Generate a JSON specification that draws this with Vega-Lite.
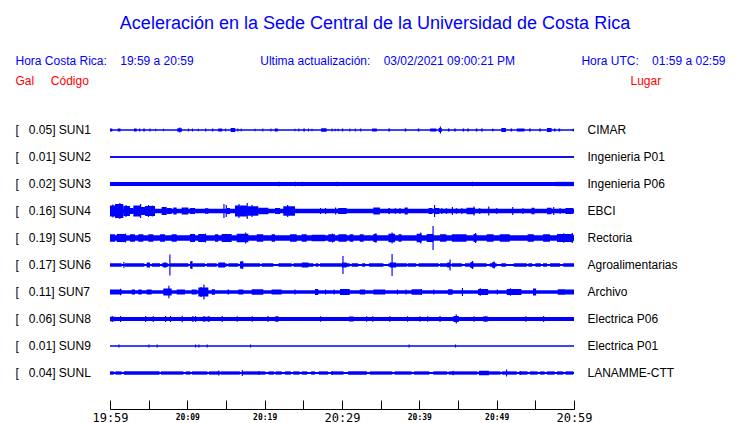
{
"$schema": "https://vega.github.io/schema/vega-lite/v6.json",
"width": 464, "height": 270,
"autosize": {"type": "none"},
"padding": {"left": 110, "top": 116.5, "right": 166, "bottom": 36.5},
"background": "white",
"config": {"view": {"stroke": null}, "axis": {"grid": false}},
"title": {"text": "Aceleración en la Sede Central de la Universidad de Costa Rica", "color": "#0000ff", "font": "Liberation Sans", "fontSize": 18, "fontWeight": "normal", "anchor": "middle", "frame": "group", "dx": 33, "offset": 22},
"datasets": {
"estaciones": [
{"s":"SUN1","gal":0.05,"lugar":"CIMAR","ruido":1.5},
{"s":"SUN2","gal":0.01,"lugar":"Ingenieria P01","ruido":1.3},
{"s":"SUN3","gal":0.02,"lugar":"Ingenieria P06","ruido":3.8},
{"s":"SUN4","gal":0.16,"lugar":"EBCI","ruido":4.5},
{"s":"SUN5","gal":0.19,"lugar":"Rectoria","ruido":5.3},
{"s":"SUN6","gal":0.17,"lugar":"Agroalimentarias","ruido":2},
{"s":"SUN7","gal":0.11,"lugar":"Archivo","ruido":3.5},
{"s":"SUN8","gal":0.06,"lugar":"Electrica P06","ruido":3.8},
{"s":"SUN9","gal":0.01,"lugar":"Electrica P01","ruido":1.4},
{"s":"SUNL","gal":0.04,"lugar":"LANAMME-CTT","ruido":2.2}
],
"trazas": [
{"s":"SUN1","a":0,"b":0.3,"h":3},{"s":"SUN1","a":1,"b":1.35,"h":3},{"s":"SUN1","a":3.1,"b":3.45,"h":3},{"s":"SUN1","a":3.75,"b":3.9,"h":3},{"s":"SUN1","a":4.3,"b":4.5,"h":3},{"s":"SUN1","a":5.1,"b":5.25,"h":3},{"s":"SUN1","a":5.85,"b":5.98,"h":2.5},{"s":"SUN1","a":6.85,"b":6.98,"h":2.5},{"s":"SUN1","a":8.7,"b":9.3,"h":3.5},{"s":"SUN1","a":8.95,"b":9.1,"h":5},{"s":"SUN1","a":10.1,"b":10.22,"h":3},{"s":"SUN1","a":10.6,"b":10.72,"h":3},{"s":"SUN1","a":11.35,"b":11.48,"h":2.5},{"s":"SUN1","a":12.3,"b":12.45,"h":3},{"s":"SUN1","a":13.2,"b":13.35,"h":3},{"s":"SUN1","a":14,"b":14.5,"h":3},{"s":"SUN1","a":14.9,"b":15.02,"h":3},{"s":"SUN1","a":15.6,"b":16.2,"h":4},{"s":"SUN1","a":16.45,"b":16.6,"h":3},{"s":"SUN1","a":16.9,"b":17.02,"h":3},{"s":"SUN1","a":18.7,"b":18.83,"h":2.5},{"s":"SUN1","a":19.7,"b":19.83,"h":3},{"s":"SUN1","a":20.75,"b":20.88,"h":3},{"s":"SUN1","a":21.3,"b":21.7,"h":3},{"s":"SUN1","a":23.85,"b":23.98,"h":2.5},{"s":"SUN1","a":24.35,"b":24.48,"h":3},{"s":"SUN1","a":25,"b":25.2,"h":3},{"s":"SUN1","a":25.6,"b":25.72,"h":3},{"s":"SUN1","a":26.05,"b":26.18,"h":2.5},{"s":"SUN1","a":27.3,"b":28,"h":3.5},{"s":"SUN1","a":28.65,"b":28.78,"h":3},{"s":"SUN1","a":29.05,"b":29.18,"h":2.5},{"s":"SUN1","a":29.45,"b":29.58,"h":2.5},{"s":"SUN1","a":30,"b":30.15,"h":3},{"s":"SUN1","a":30.95,"b":31.08,"h":3},{"s":"SUN1","a":31.65,"b":31.78,"h":3},{"s":"SUN1","a":32.35,"b":32.5,"h":3},{"s":"SUN1","a":33.9,"b":34.5,"h":3},{"s":"SUN1","a":36,"b":36.2,"h":3},{"s":"SUN1","a":38.1,"b":38.3,"h":3},{"s":"SUN1","a":39.8,"b":40,"h":3},{"s":"SUN1","a":41.4,"b":42.2,"h":3},{"s":"SUN1","a":42.5,"b":42.9,"h":4},{"s":"SUN1","a":42.65,"b":42.8,"h":7},{"s":"SUN1","a":43.7,"b":43.9,"h":3},{"s":"SUN1","a":44.5,"b":44.7,"h":3},{"s":"SUN1","a":45.6,"b":45.8,"h":3},{"s":"SUN1","a":46.2,"b":46.4,"h":3},{"s":"SUN1","a":47.3,"b":47.5,"h":3},{"s":"SUN1","a":48,"b":48.2,"h":3},{"s":"SUN1","a":49.4,"b":49.6,"h":2.5},{"s":"SUN1","a":50.6,"b":51.2,"h":4},{"s":"SUN1","a":51.8,"b":52,"h":3},{"s":"SUN1","a":52.6,"b":53.6,"h":3},{"s":"SUN1","a":54.2,"b":54.4,"h":3},{"s":"SUN1","a":55.5,"b":55.7,"h":3},{"s":"SUN1","a":56.5,"b":57.1,"h":4},{"s":"SUN1","a":57.4,"b":57.6,"h":3},{"s":"SUN1","a":58,"b":58.2,"h":3},{"s":"SUN1","a":59.8,"b":60,"h":2.5},
{"s":"SUN2","a":0,"b":60,"h":1.3},
{"s":"SUN3","a":21.8,"b":21.95,"h":4.5},{"s":"SUN3","a":23.9,"b":24.05,"h":4.5},{"s":"SUN3","a":24.8,"b":24.95,"h":4.5},{"s":"SUN3","a":29.3,"b":29.45,"h":4.5},{"s":"SUN3","a":46.8,"b":46.95,"h":4.5},{"s":"SUN3","a":57.6,"b":60,"h":4.3},
{"s":"SUN4","a":0,"b":0.65,"h":11},{"s":"SUN4","a":0.65,"b":1.72,"h":14},{"s":"SUN4","a":1.72,"b":2.59,"h":10},{"s":"SUN4","a":2.59,"b":3.02,"h":6},{"s":"SUN4","a":3.02,"b":3.9,"h":11},{"s":"SUN4","a":3.9,"b":4.53,"h":8},{"s":"SUN4","a":4.53,"b":5.82,"h":10},{"s":"SUN4","a":6.68,"b":7.33,"h":8},{"s":"SUN4","a":7.33,"b":7.97,"h":6},{"s":"SUN4","a":8.19,"b":8.62,"h":7},{"s":"SUN4","a":9.27,"b":10.13,"h":7},{"s":"SUN4","a":10.35,"b":10.99,"h":6},{"s":"SUN4","a":12.28,"b":12.72,"h":5.5},{"s":"SUN4","a":15.1,"b":15.52,"h":6},{"s":"SUN4","a":16.16,"b":17.7,"h":11},{"s":"SUN4","a":17.7,"b":19.18,"h":9.5},{"s":"SUN4","a":19.18,"b":20.48,"h":6.5},{"s":"SUN4","a":21.34,"b":21.98,"h":6},{"s":"SUN4","a":22.41,"b":23.92,"h":9.5},{"s":"SUN4","a":29.5,"b":30.6,"h":6},{"s":"SUN4","a":34.05,"b":34.9,"h":7},{"s":"SUN4","a":36,"b":36.2,"h":6},{"s":"SUN4","a":36.8,"b":37,"h":5.5},{"s":"SUN4","a":37.4,"b":37.6,"h":5.5},{"s":"SUN4","a":38.1,"b":38.5,"h":7},{"s":"SUN4","a":41.2,"b":41.7,"h":6},{"s":"SUN4","a":42,"b":42.6,"h":6},{"s":"SUN4","a":42.8,"b":43,"h":5.5},{"s":"SUN4","a":43.4,"b":43.6,"h":5.5},{"s":"SUN4","a":44.7,"b":44.9,"h":5.5},{"s":"SUN4","a":45.4,"b":45.6,"h":5.5},{"s":"SUN4","a":46.1,"b":47.2,"h":6.5},{"s":"SUN4","a":47.7,"b":47.9,"h":5.5},{"s":"SUN4","a":49.9,"b":50.1,"h":5.5},{"s":"SUN4","a":53.3,"b":53.5,"h":5.5},{"s":"SUN4","a":54.5,"b":54.9,"h":6.5},{"s":"SUN4","a":56.5,"b":57.1,"h":6.5},{"s":"SUN4","a":58.1,"b":58.3,"h":5.5},{"s":"SUN4","a":58.9,"b":59.9,"h":6},
{"s":"SUN4","a":0.3,"b":0.45,"h":13},{"s":"SUN4","a":1.2,"b":1.35,"h":16},{"s":"SUN4","a":2,"b":2.15,"h":12},{"s":"SUN4","a":3.88,"b":4.03,"h":14},{"s":"SUN4","a":4.9,"b":5.05,"h":12},{"s":"SUN4","a":5.4,"b":5.55,"h":11},{"s":"SUN4","a":14.66,"b":14.81,"h":14},{"s":"SUN4","a":14.96,"b":15.11,"h":12},{"s":"SUN4","a":16.6,"b":16.75,"h":14},{"s":"SUN4","a":17.67,"b":17.82,"h":16},{"s":"SUN4","a":18.3,"b":18.45,"h":12},{"s":"SUN4","a":22.9,"b":23.05,"h":12},{"s":"SUN4","a":27.15,"b":27.3,"h":6},{"s":"SUN4","a":27.8,"b":27.95,"h":6},{"s":"SUN4","a":29.1,"b":29.25,"h":7},{"s":"SUN4","a":41.9,"b":42.05,"h":12},{"s":"SUN4","a":44.2,"b":44.35,"h":8},{"s":"SUN4","a":47,"b":47.15,"h":9},{"s":"SUN4","a":48.9,"b":49.05,"h":9},{"s":"SUN4","a":52,"b":52.15,"h":8},{"s":"SUN4","a":57.3,"b":57.45,"h":8},
{"s":"SUN5","a":0,"b":0.65,"h":7.5},{"s":"SUN5","a":0.86,"b":1.94,"h":8},{"s":"SUN5","a":2.59,"b":3.23,"h":7.5},{"s":"SUN5","a":3.66,"b":4.31,"h":7.5},{"s":"SUN5","a":4.96,"b":5.6,"h":7.5},{"s":"SUN5","a":6.47,"b":7.11,"h":7.5},{"s":"SUN5","a":7.97,"b":8.62,"h":7.5},{"s":"SUN5","a":10.35,"b":10.99,"h":8},{"s":"SUN5","a":11.42,"b":12.28,"h":8},{"s":"SUN5","a":13.58,"b":14.01,"h":7.5},{"s":"SUN5","a":14.44,"b":15.73,"h":8},{"s":"SUN5","a":16.38,"b":17.89,"h":8.5},{"s":"SUN5","a":18.97,"b":19.83,"h":7.5},{"s":"SUN5","a":20.9,"b":21.34,"h":7.5},{"s":"SUN5","a":23.28,"b":24.14,"h":7.5},{"s":"SUN5","a":24.79,"b":25.43,"h":7.5},{"s":"SUN5","a":26.08,"b":27.8,"h":6.5},{"s":"SUN5","a":28.23,"b":29.1,"h":7.5},{"s":"SUN5","a":29.53,"b":30.6,"h":7.5},{"s":"SUN5","a":31,"b":31.47,"h":7.5},{"s":"SUN5","a":32.3,"b":32.8,"h":7.5},{"s":"SUN5","a":34.05,"b":34.5,"h":8},{"s":"SUN5","a":36,"b":36.85,"h":8.5},{"s":"SUN5","a":37.3,"b":37.7,"h":7.5},{"s":"SUN5","a":39.65,"b":40.3,"h":8.5},{"s":"SUN5","a":40.95,"b":41.8,"h":8},{"s":"SUN5","a":42.67,"b":43.5,"h":7.5},{"s":"SUN5","a":44.2,"b":46.1,"h":7.5},{"s":"SUN5","a":47,"b":47.4,"h":8},{"s":"SUN5","a":48.7,"b":49.6,"h":7.5},{"s":"SUN5","a":50.4,"b":51.7,"h":7.5},{"s":"SUN5","a":54,"b":54.8,"h":7.5},{"s":"SUN5","a":56,"b":56.9,"h":7.5},{"s":"SUN5","a":57.8,"b":59.9,"h":8},
{"s":"SUN5","a":1.94,"b":2.09,"h":9},{"s":"SUN5","a":12.28,"b":12.43,"h":9},{"s":"SUN5","a":17.46,"b":17.61,"h":11},{"s":"SUN5","a":28.7,"b":28.85,"h":9},{"s":"SUN5","a":34.3,"b":34.45,"h":9.5},{"s":"SUN5","a":36.4,"b":36.55,"h":11},{"s":"SUN5","a":40.1,"b":40.25,"h":11},{"s":"SUN5","a":41.7,"b":41.85,"h":24},{"s":"SUN5","a":47.2,"b":47.35,"h":10},{"s":"SUN5","a":58.6,"b":58.75,"h":9.5},{"s":"SUN5","a":59.7,"b":59.85,"h":10},
{"s":"SUN6","a":0,"b":1.51,"h":3.5},{"s":"SUN6","a":1.94,"b":4.44,"h":3.5},{"s":"SUN6","a":4.74,"b":5.17,"h":5},{"s":"SUN6","a":5.39,"b":6.47,"h":3.5},{"s":"SUN6","a":6.68,"b":7.54,"h":3.5},{"s":"SUN6","a":7.76,"b":10.13,"h":3.5},{"s":"SUN6","a":10.65,"b":12.28,"h":3.5},{"s":"SUN6","a":12.5,"b":13.8,"h":3.5},{"s":"SUN6","a":14.01,"b":15.09,"h":3.5},{"s":"SUN6","a":15.3,"b":16.6,"h":3.5},{"s":"SUN6","a":16.81,"b":19.4,"h":3.5},{"s":"SUN6","a":19.61,"b":21.12,"h":3.5},{"s":"SUN6","a":21.77,"b":23.5,"h":3.5},{"s":"SUN6","a":23.71,"b":25.22,"h":3.5},{"s":"SUN6","a":25.43,"b":26.29,"h":3.5},{"s":"SUN6","a":26.6,"b":26.94,"h":3.5},{"s":"SUN6","a":27.15,"b":31,"h":3.5},{"s":"SUN6","a":31.25,"b":32.1,"h":3.5},{"s":"SUN6","a":32.6,"b":33,"h":3.5},{"s":"SUN6","a":33.5,"b":35.35,"h":3.5},{"s":"SUN6","a":36,"b":38.4,"h":3.5},{"s":"SUN6","a":38.5,"b":39.6,"h":3.5},{"s":"SUN6","a":39.9,"b":42.5,"h":3.5},{"s":"SUN6","a":42.67,"b":43.7,"h":3.5},{"s":"SUN6","a":44.2,"b":45.5,"h":3.5},{"s":"SUN6","a":45.9,"b":48.7,"h":3.5},{"s":"SUN6","a":49.1,"b":50,"h":3.5},{"s":"SUN6","a":50.6,"b":51.2,"h":3.5},{"s":"SUN6","a":52.2,"b":53.9,"h":3.5},{"s":"SUN6","a":54.1,"b":54.6,"h":3.5},{"s":"SUN6","a":55,"b":55.7,"h":3.5},{"s":"SUN6","a":56,"b":56.5,"h":3.5},{"s":"SUN6","a":56.9,"b":58.2,"h":3.5},{"s":"SUN6","a":58.6,"b":60,"h":3.5},
{"s":"SUN6","a":6.9,"b":7.33,"h":5},{"s":"SUN6","a":10.35,"b":10.65,"h":7},{"s":"SUN6","a":14,"b":14.87,"h":5},{"s":"SUN6","a":16.8,"b":17.25,"h":7},{"s":"SUN6","a":24.8,"b":25.65,"h":5},{"s":"SUN6","a":30,"b":30.6,"h":5},{"s":"SUN6","a":36.2,"b":37,"h":5},{"s":"SUN6","a":43.6,"b":44,"h":5},{"s":"SUN6","a":46.6,"b":47,"h":6},{"s":"SUN6","a":49.4,"b":49.8,"h":5.5},
{"s":"SUN6","a":1.72,"b":1.87,"h":6},{"s":"SUN6","a":7.67,"b":7.82,"h":21},{"s":"SUN6","a":10.5,"b":10.65,"h":8},{"s":"SUN6","a":17.03,"b":17.18,"h":8},{"s":"SUN6","a":30.05,"b":30.2,"h":18},{"s":"SUN6","a":36.4,"b":36.55,"h":22},{"s":"SUN6","a":43.9,"b":44.05,"h":11},{"s":"SUN6","a":46.8,"b":46.95,"h":8},{"s":"SUN6","a":49.6,"b":49.75,"h":7},
{"s":"SUN7","a":0,"b":1.51,"h":5},{"s":"SUN7","a":2.8,"b":3.23,"h":5},{"s":"SUN7","a":3.66,"b":4.1,"h":5},{"s":"SUN7","a":4.74,"b":5.39,"h":5},{"s":"SUN7","a":6.9,"b":7.97,"h":7},{"s":"SUN7","a":8.62,"b":9.7,"h":5},{"s":"SUN7","a":10.56,"b":11.2,"h":5},{"s":"SUN7","a":11.42,"b":12.72,"h":9},{"s":"SUN7","a":13.15,"b":13.58,"h":5.5},{"s":"SUN7","a":15.2,"b":15.4,"h":5},{"s":"SUN7","a":16.6,"b":17.25,"h":5},{"s":"SUN7","a":18.32,"b":19.83,"h":5.5},{"s":"SUN7","a":20.9,"b":22.2,"h":5},{"s":"SUN7","a":23.85,"b":24,"h":5},{"s":"SUN7","a":26.5,"b":26.94,"h":6},{"s":"SUN7","a":27.8,"b":27.95,"h":5},{"s":"SUN7","a":28.9,"b":29.05,"h":5},{"s":"SUN7","a":29.74,"b":31,"h":6},{"s":"SUN7","a":32.3,"b":33,"h":5},{"s":"SUN7","a":34.05,"b":35.6,"h":5},{"s":"SUN7","a":37.1,"b":37.25,"h":5},{"s":"SUN7","a":38.2,"b":38.35,"h":5},{"s":"SUN7","a":39,"b":40.3,"h":5.5},{"s":"SUN7","a":41.8,"b":41.95,"h":5},{"s":"SUN7","a":43.7,"b":44.3,"h":5.5},{"s":"SUN7","a":47.6,"b":48.9,"h":6},{"s":"SUN7","a":50,"b":50.15,"h":5},{"s":"SUN7","a":51.3,"b":53.2,"h":6},{"s":"SUN7","a":54.7,"b":55.1,"h":7},{"s":"SUN7","a":57.9,"b":58.9,"h":5.5},{"s":"SUN7","a":58.9,"b":60,"h":5},
{"s":"SUN7","a":1.29,"b":1.44,"h":6.5},{"s":"SUN7","a":7.54,"b":7.69,"h":12.5},{"s":"SUN7","a":11.7,"b":11.85,"h":10},{"s":"SUN7","a":12.07,"b":12.22,"h":15},{"s":"SUN7","a":40.2,"b":40.35,"h":6},{"s":"SUN7","a":45.5,"b":45.65,"h":8},{"s":"SUN7","a":47.8,"b":47.95,"h":7.5},{"s":"SUN7","a":51.7,"b":51.85,"h":7.5},
{"s":"SUN8","a":0,"b":0.7,"h":4.5},{"s":"SUN8","a":12,"b":12.8,"h":4.5},{"s":"SUN8","a":21.3,"b":21.8,"h":5},{"s":"SUN8","a":30.9,"b":31.5,"h":5},{"s":"SUN8","a":44.4,"b":45.1,"h":6},{"s":"SUN8","a":48.2,"b":48.9,"h":5},
{"s":"SUN8","a":0.22,"b":0.37,"h":6},{"s":"SUN8","a":1.29,"b":1.44,"h":6},{"s":"SUN8","a":4.53,"b":4.68,"h":6},{"s":"SUN8","a":5.52,"b":5.67,"h":6},{"s":"SUN8","a":7.11,"b":7.26,"h":6},{"s":"SUN8","a":7.76,"b":7.91,"h":6},{"s":"SUN8","a":9.27,"b":9.42,"h":6.5},{"s":"SUN8","a":10.65,"b":10.8,"h":6},{"s":"SUN8","a":10.99,"b":11.14,"h":6},{"s":"SUN8","a":12.07,"b":12.22,"h":6},{"s":"SUN8","a":12.72,"b":12.87,"h":6},{"s":"SUN8","a":14.44,"b":14.59,"h":6},{"s":"SUN8","a":16.38,"b":16.53,"h":5.5},{"s":"SUN8","a":18.32,"b":18.47,"h":5.5},{"s":"SUN8","a":20.35,"b":20.5,"h":6},{"s":"SUN8","a":21.55,"b":21.7,"h":6},{"s":"SUN8","a":27.15,"b":27.3,"h":5.5},{"s":"SUN8","a":33.1,"b":33.25,"h":5.5},{"s":"SUN8","a":33.9,"b":34.05,"h":5.5},{"s":"SUN8","a":36.1,"b":36.25,"h":5.5},{"s":"SUN8","a":38.4,"b":38.55,"h":5.5},{"s":"SUN8","a":40,"b":40.15,"h":5.5},{"s":"SUN8","a":41,"b":41.15,"h":5.5},{"s":"SUN8","a":42.6,"b":42.75,"h":6},{"s":"SUN8","a":44.7,"b":44.85,"h":9},{"s":"SUN8","a":47,"b":47.15,"h":5.5},{"s":"SUN8","a":48.5,"b":48.65,"h":6},{"s":"SUN8","a":53.7,"b":53.85,"h":5.5},{"s":"SUN8","a":56,"b":56.15,"h":6},
{"s":"SUN9","a":1.08,"b":1.23,"h":3},{"s":"SUN9","a":4.96,"b":5.11,"h":3},{"s":"SUN9","a":6.03,"b":6.18,"h":3},{"s":"SUN9","a":10.99,"b":11.14,"h":3},{"s":"SUN9","a":11.42,"b":11.57,"h":3},{"s":"SUN9","a":12.5,"b":12.65,"h":3},{"s":"SUN9","a":18.1,"b":18.25,"h":3},{"s":"SUN9","a":38.6,"b":38.75,"h":3},{"s":"SUN9","a":44.6,"b":44.75,"h":3},
{"s":"SUNL","a":0,"b":0.5,"h":3.3},{"s":"SUNL","a":0.7,"b":1.5,"h":3.3},{"s":"SUNL","a":1.8,"b":6.4,"h":3.3},{"s":"SUNL","a":6.6,"b":9.5,"h":3.3},{"s":"SUNL","a":9.8,"b":10.4,"h":3.3},{"s":"SUNL","a":10.6,"b":12.6,"h":3.3},{"s":"SUNL","a":12.8,"b":14.2,"h":3.3},{"s":"SUNL","a":14.3,"b":16.8,"h":3.3},{"s":"SUNL","a":17.1,"b":20.1,"h":3.3},{"s":"SUNL","a":20.5,"b":21.2,"h":3.3},{"s":"SUNL","a":21.4,"b":22.2,"h":3.3},{"s":"SUNL","a":22.6,"b":23.4,"h":3.3},{"s":"SUNL","a":23.7,"b":24.5,"h":3.3},{"s":"SUNL","a":24.8,"b":25.5,"h":3.3},{"s":"SUNL","a":26,"b":26.5,"h":3.3},{"s":"SUNL","a":27,"b":28.2,"h":3.3},{"s":"SUNL","a":28.6,"b":30.2,"h":3.3},{"s":"SUNL","a":30.8,"b":33.2,"h":3.3},{"s":"SUNL","a":33.6,"b":36.5,"h":3.3},{"s":"SUNL","a":36.8,"b":39,"h":3.3},{"s":"SUNL","a":39.3,"b":41.3,"h":3.3},{"s":"SUNL","a":41.8,"b":43.6,"h":3.3},{"s":"SUNL","a":43.8,"b":47.5,"h":3.3},{"s":"SUNL","a":47.8,"b":50.5,"h":3.3},{"s":"SUNL","a":50.7,"b":52.6,"h":3.3},{"s":"SUNL","a":52.9,"b":54,"h":3.3},{"s":"SUNL","a":54.3,"b":55.3,"h":3.3},{"s":"SUNL","a":55.6,"b":56.2,"h":3.3},{"s":"SUNL","a":56.5,"b":57.5,"h":3.3},{"s":"SUNL","a":57.8,"b":58.6,"h":3.3},{"s":"SUNL","a":58.9,"b":59.9,"h":3.3},{"s":"SUNL","a":47.7,"b":49,"h":4.5},
{"s":"SUNL","a":14,"b":14.15,"h":5},{"s":"SUNL","a":17.03,"b":17.18,"h":6},{"s":"SUNL","a":19.18,"b":19.33,"h":4},{"s":"SUNL","a":28.66,"b":28.81,"h":4},{"s":"SUNL","a":44.3,"b":44.45,"h":4.5},{"s":"SUNL","a":51.2,"b":51.35,"h":7},{"s":"SUNL","a":53,"b":53.15,"h":4}
]
},
"layer": [
{
"data": {"name": "trazas"},
"transform": [
{"lookup": "s", "from": {"data": {"name": "estaciones"}, "key": "s", "fields": ["gal"]}},
{"calculate": "'[\u00a0\u00a0\u00a0' + format(datum.gal, '.2f') + '] ' + datum.s", "as": "izq"}
],
"mark": {"type": "bar", "color": "#0000ff"},
"encoding": {
"y": {"field": "izq", "type": "nominal", "sort": null, "scale": {"paddingInner": 0, "paddingOuter": 0},
"axis": {"orient": "left", "domain": false, "ticks": false, "labelAlign": "left", "labelPadding": 95, "labelFont": "Liberation Sans", "labelFontSize": 12, "labelColor": "black", "labelBaseline": "middle", "labelLimit": 300,
"title": "Gal\u00a0\u00a0\u00a0\u00a0\u00a0Código", "titleColor": "#ff0000", "titleFont": "Liberation Sans", "titleFontSize": 12, "titleFontWeight": "normal", "titleAngle": 0, "titleAlign": "left", "titleBaseline": "alphabetic", "titleX": -95, "titleY": -32}},
"x": {"field": "a", "type": "quantitative", "scale": {"domain": [0, 60], "nice": false, "zero": false},
"axis": {"orient": "bottom", "offset": 22.5, "values": [0,5,10,15,20,25,30,35,40,45,50,55,60], "domainColor": "black", "domainWidth": 1, "tickColor": "black", "tickWidth": 1, "tickSize": -9,
"labelExpr": "datum.value % 10 ? '' : floor((1199 + datum.value) / 60) + ':' + ((1199 + datum.value) % 60 < 10 ? '0' : '') + ((1199 + datum.value) % 60)",
"labelFont": "DejaVu Sans Mono", "labelFontSize": {"condition": {"test": "datum.value % 30 == 0", "value": 12}, "value": 8}, "labelFontWeight": {"condition": {"test": "datum.value % 30 == 0", "value": "normal"}, "value": "bold"}, "labelColor": "black", "labelBaseline": "middle", "labelPadding": 17, "labelFlush": false, "labelOverlap": false, "labelBound": false,
"title": "Hora Costa Rica:\u00a0\u00a0\u00a0\u00a019:59 a 20:59\u00a0\u00a0\u00a0\u00a0\u00a0\u00a0\u00a0\u00a0\u00a0\u00a0\u00a0\u00a0\u00a0\u00a0\u00a0\u00a0\u00a0\u00a0\u00a0\u00a0Ultima actualización:\u00a0\u00a0\u00a0\u00a003/02/2021 09:00:21 PM",
"titleColor": "#0000ff", "titleFont": "Liberation Sans", "titleFontSize": 12, "titleFontWeight": "normal", "titleAlign": "left", "titleBaseline": "alphabetic", "titleX": -95, "titleY": -344.5, "titleLimit": 1000}},
"x2": {"field": "b"},
"size": {"field": "h", "type": "quantitative", "scale": {"type": "linear", "domain": [0, 30], "range": [0, 30], "zero": true}, "legend": null}
}
},
{
"data": {"name": "estaciones"},
"mark": {"type": "bar", "color": "#0000ff"},
"encoding": {
"y": {"field": "lugar", "type": "nominal", "sort": null, "scale": {"paddingInner": 0, "paddingOuter": 0},
"axis": {"orient": "right", "domain": false, "ticks": false, "labelAlign": "left", "labelPadding": 13, "labelFont": "Liberation Sans", "labelFontSize": 12, "labelColor": "black", "labelBaseline": "middle", "labelLimit": 300,
"title": "Lugar", "titleColor": "#ff0000", "titleFont": "Liberation Sans", "titleFontSize": 12, "titleFontWeight": "normal", "titleAngle": 0, "titleAlign": "left", "titleBaseline": "alphabetic", "titleX": 56, "titleY": -32}},
"x": {"datum": 0, "type": "quantitative",
"axis": {"orient": "top", "domain": false, "ticks": false, "labels": false, "grid": false,
"title": "Hora UTC:\u00a0\u00a0\u00a0\u00a001:59 a 02:59", "titleColor": "#0000ff", "titleFont": "Liberation Sans", "titleFontSize": 12, "titleFontWeight": "normal", "titleAlign": "right", "titleBaseline": "alphabetic", "titleX": 615, "titleY": -52, "titleLimit": 1000}},
"x2": {"datum": 60},
"size": {"field": "ruido", "type": "quantitative", "scale": {"type": "linear", "domain": [0, 30], "range": [0, 30], "zero": true}, "legend": null}
}
}
],
"resolve": {"scale": {"y": "independent"}, "axis": {"x": "independent", "y": "independent"}}
}
